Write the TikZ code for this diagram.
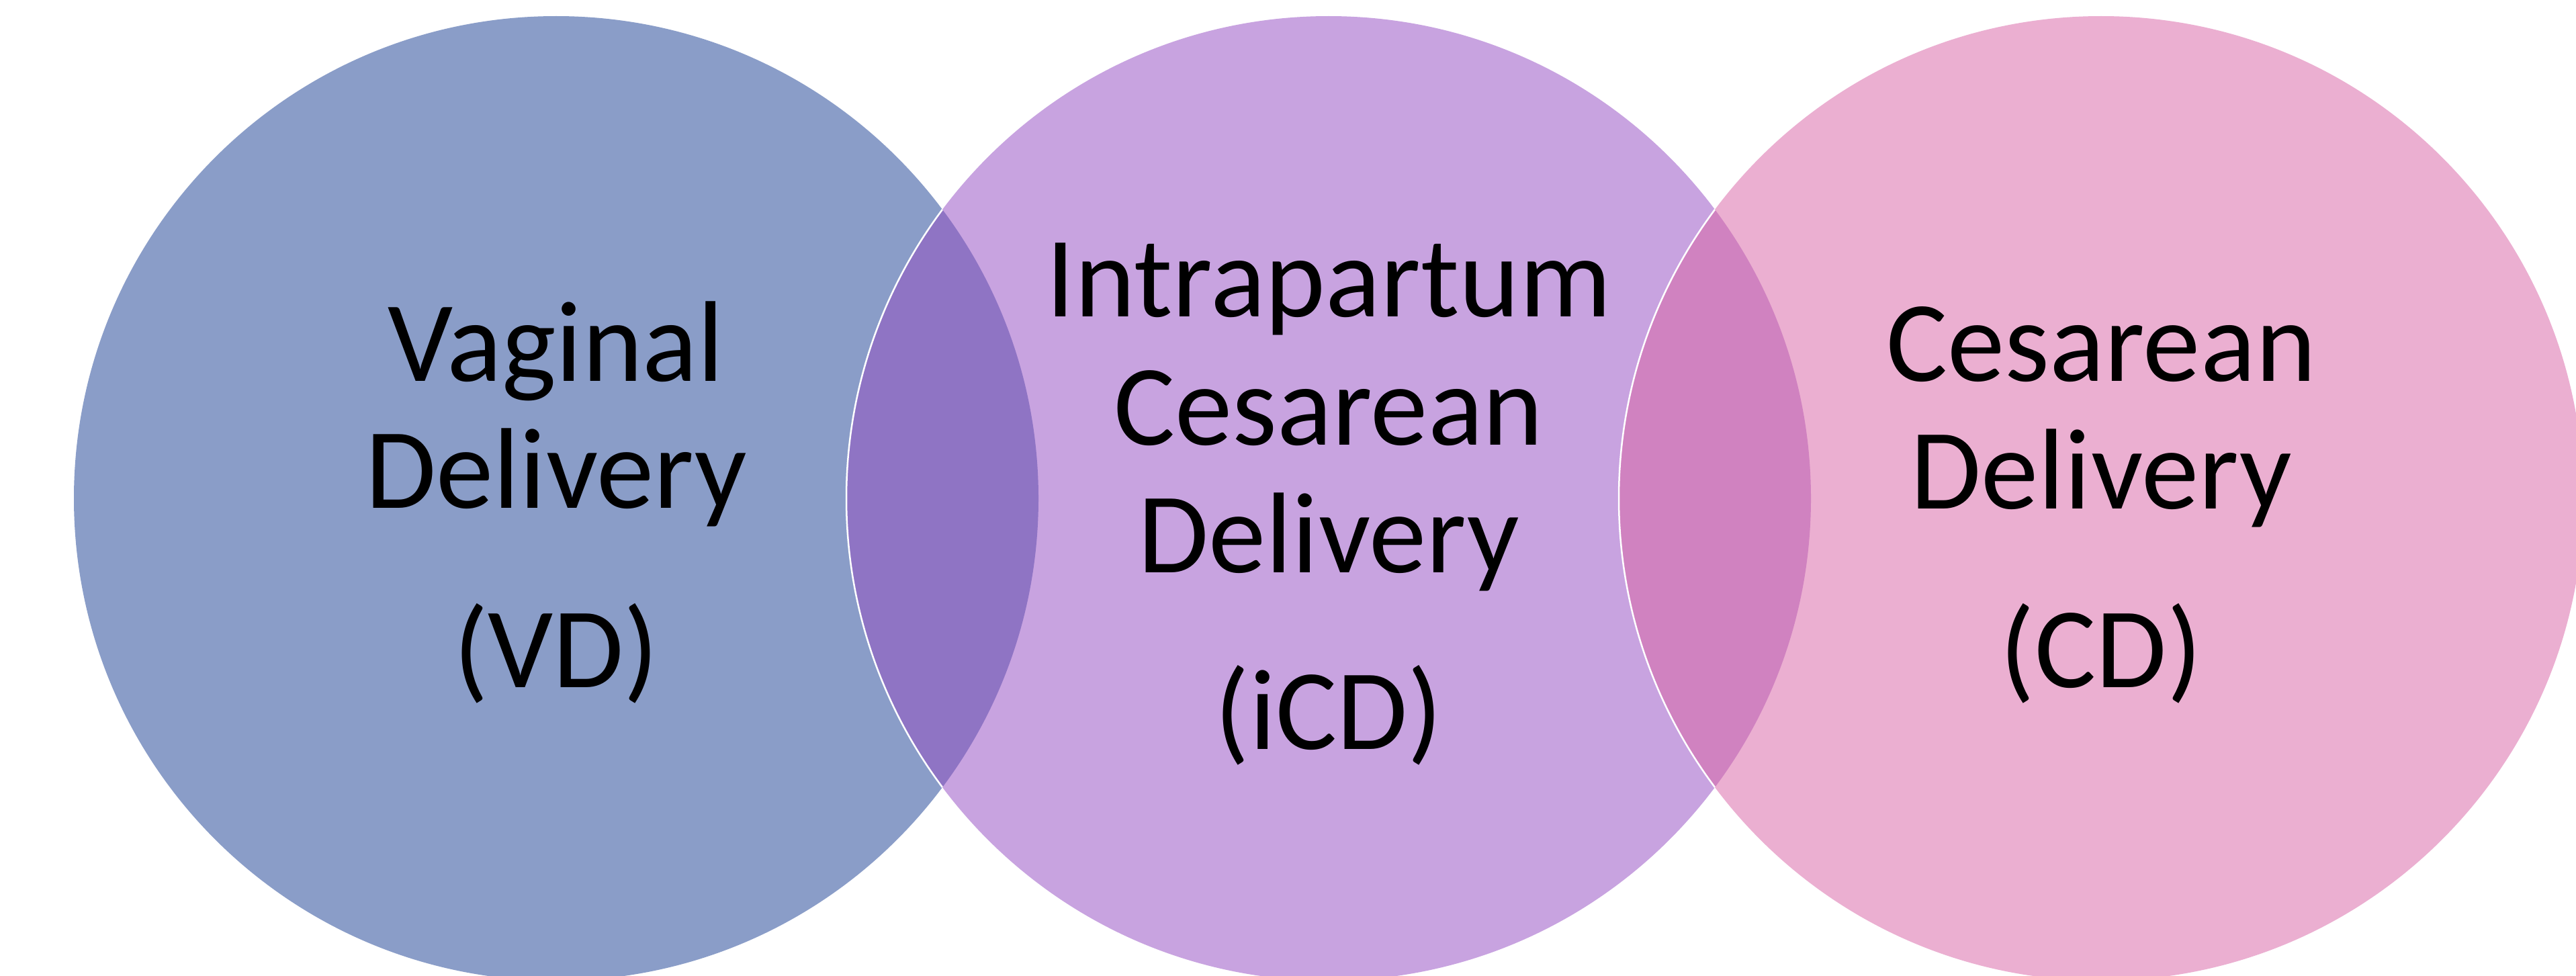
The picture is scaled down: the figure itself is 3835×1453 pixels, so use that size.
\documentclass[tikz,border=0pt]{standalone}
\usepackage{fontspec}
\setmainfont{Carlito}
\definecolor{cL}{HTML}{8A9DC8}
\definecolor{cM}{HTML}{C8A3E0}
\definecolor{cR}{HTML}{EBAFD1}
\definecolor{cLM}{HTML}{8F74C4}
\definecolor{cMR}{HTML}{D082C0}
\tikzset{
  lbl/.style={anchor=base, inner sep=0pt, text=black, font=\fontsize{171}{190}\selectfont},
  rim/.style={draw=white, line width=2.5pt}
}
\begin{document}
\begin{tikzpicture}[x=1pt,y=-1pt]
\clip (0,0) rectangle (3835,1453);
\fill[white] (0,0) rectangle (3835,1453);
\coordinate (L) at (828,742);
\coordinate (M) at (1978,742);
\coordinate (R) at (3128,742);
\fill[cL] (L) circle (718pt);
\fill[cM] (M) circle (718pt);
\fill[cR] (R) circle (718pt);
\begin{scope}
  \clip (L) circle (718pt);
  \fill[cLM] (M) circle (718pt);
  \draw[rim] (M) circle (718pt);
\end{scope}
\begin{scope}
  \clip (M) circle (718pt);
  \fill[cMR] (R) circle (718pt);
  \draw[rim] (R) circle (718pt);
\end{scope}
% left labels
\node[lbl] (vd1) at (828,567) {Vaginal};
\node[lbl] (vd2) at (828,756) {Delivery};
\node[lbl] (vd3) at (828,1023) {(VD)};
% middle labels
\node[lbl] (icd1) at (1978,471) {Intrapartum};
\node[lbl] (icd2) at (1978,662) {Cesarean};
\node[lbl] (icd3) at (1978,852) {Delivery};
\node[lbl] (icd4) at (1978,1115) {(iCD)};
% right labels
\node[lbl] (cd1) at (3128,567) {Cesarean};
\node[lbl] (cd2) at (3128,757) {Delivery};
\node[lbl] (cd3) at (3128,1023) {(CD)};
\end{tikzpicture}
\end{document}
